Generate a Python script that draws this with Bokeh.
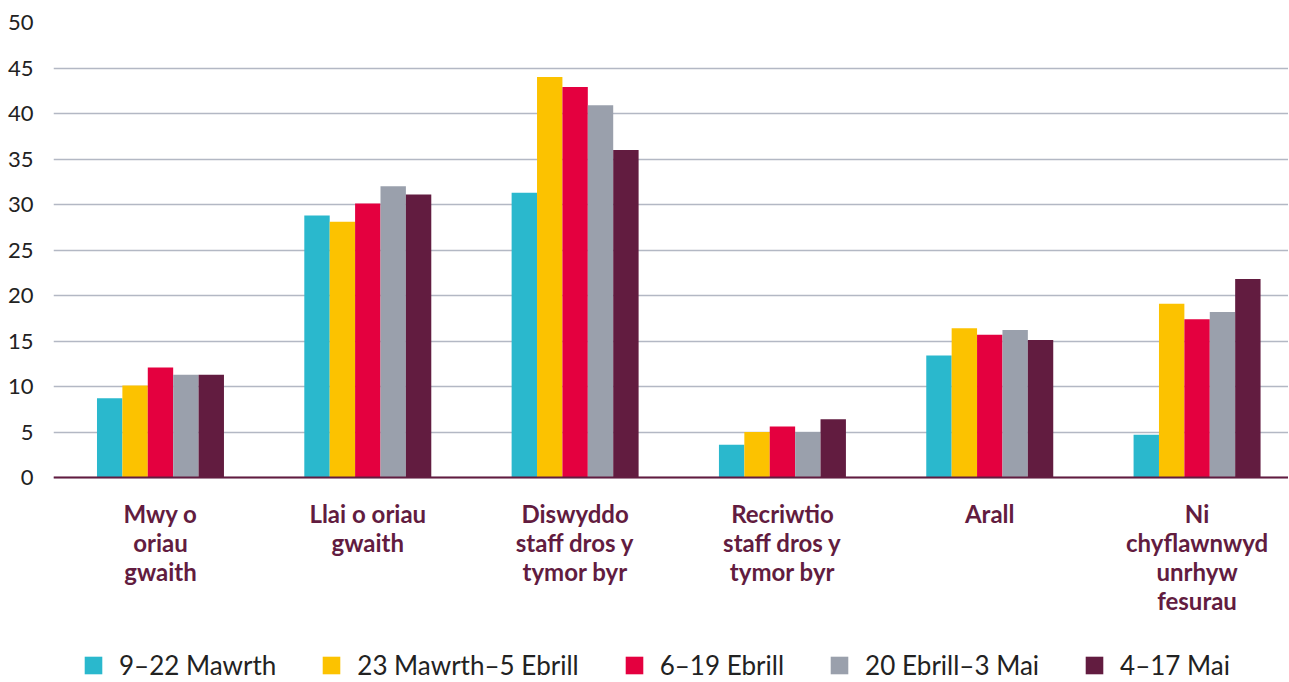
from bokeh.plotting import figure
from bokeh.models import ColumnDataSource, Range1d, FixedTicker, Legend, LegendItem, Span
from bokeh.core.properties import value
from bokeh.transform import dodge
from bokeh.embed import file_html
from bokeh.resources import INLINE

categories = ["Mwy o\noriau\ngwaith", "Llai o oriau\ngwaith", "Diswyddo\nstaff dros y\ntymor byr",
              "Recriwtio\nstaff dros y\ntymor byr", "Arall", "Ni\nchyflawnwyd\nunrhyw\nfesurau"]
series_names = ["9–22 Mawrth", "23 Mawrth–5 Ebrill", "6–19 Ebrill", "20 Ebrill–3 Mai", "4–17 Mai"]
s1 = [8.7, 28.8, 31.3, 3.6, 13.4, 4.7]
s2 = [10.1, 28.1, 44.0, 5.0, 16.4, 19.1]
s3 = [12.1, 30.1, 42.9, 5.6, 15.7, 17.4]
s4 = [11.3, 32.0, 40.9, 5.0, 16.2, 18.2]
s5 = [11.3, 31.1, 36.0, 6.4, 15.1, 21.8]
colors = ["#2ab8cd", "#fcc200", "#e4003f", "#9aa0ac", "#621c40"]
y_ticks = [0, 5, 10, 15, 20, 25, 30, 35, 40, 45, 50]

xs = list(range(len(categories)))
src = ColumnDataSource(dict(x=xs, s1=s1, s2=s2, s3=s3, s4=s4, s5=s5))
lab_src = ColumnDataSource(dict(x=xs, y=[-2.4] * len(xs), t=categories))

FRAME_H = 660
Y_MIN = 50 - FRAME_H / 9.1  # keep 9.1 px per unit, leave room below the axis for labels + legend

p = figure(frame_width=1235, frame_height=FRAME_H, output_backend="svg", toolbar_location=None,
           x_range=Range1d(-0.516, 5.441), y_range=Range1d(Y_MIN, 50),
           min_border_left=53, min_border_right=0, min_border_top=22, min_border_bottom=0)
p.outline_line_color = None
p.background_fill_color = "white"
p.border_fill_color = "white"

bw = 0.1225
offsets = [-2 * bw, -bw, 0, bw, 2 * bw]
items = []
for i, key in enumerate(["s1", "s2", "s3", "s4", "s5"]):
    r = p.vbar(x=dodge("x", offsets[i], range=p.x_range), top=key, bottom=0, width=bw, source=src,
               fill_color=colors[i], line_color=None)
    items.append(LegendItem(label=series_names[i], renderers=[r]))

# baseline (x axis line)
p.add_layout(Span(location=0, dimension="width", line_color="#621c40", line_width=2))

# category labels
p.text(x="x", y="y", text="t", source=lab_src, text_align="center", text_baseline="top",
       text_font=value("Lato"), text_font_style="bold", text_font_size="24px",
       text_color="#621c40", text_line_height=1.0)

p.xaxis.visible = False

p.yaxis.ticker = FixedTicker(ticks=y_ticks)
p.yaxis.axis_line_color = None
p.yaxis.major_tick_line_color = None
p.yaxis.minor_tick_line_color = None
p.yaxis.major_tick_out = 0
p.yaxis.major_tick_in = 0
p.yaxis.major_label_text_font = "Lato"
p.yaxis.major_label_text_font_size = "22px"
p.yaxis.major_label_text_color = "#222222"
p.yaxis.major_label_standoff = 20

p.xgrid.grid_line_color = None
p.ygrid.ticker = FixedTicker(ticks=y_ticks)
p.ygrid.grid_line_color = "#b3b8c4"
p.ygrid.grid_line_width = 1.5

legend = Legend(items=items, orientation="horizontal", location=(29, 1),
                glyph_width=22, glyph_height=22, label_standoff=15, spacing=44,
                padding=0, margin=0, border_line_color=None, background_fill_alpha=0,
                label_text_font="Lato", label_text_font_size="26px", label_text_color="#222222",
                label_height=22)
p.add_layout(legend, "center")

open("out.html", "w").write(file_html(p, INLINE))
